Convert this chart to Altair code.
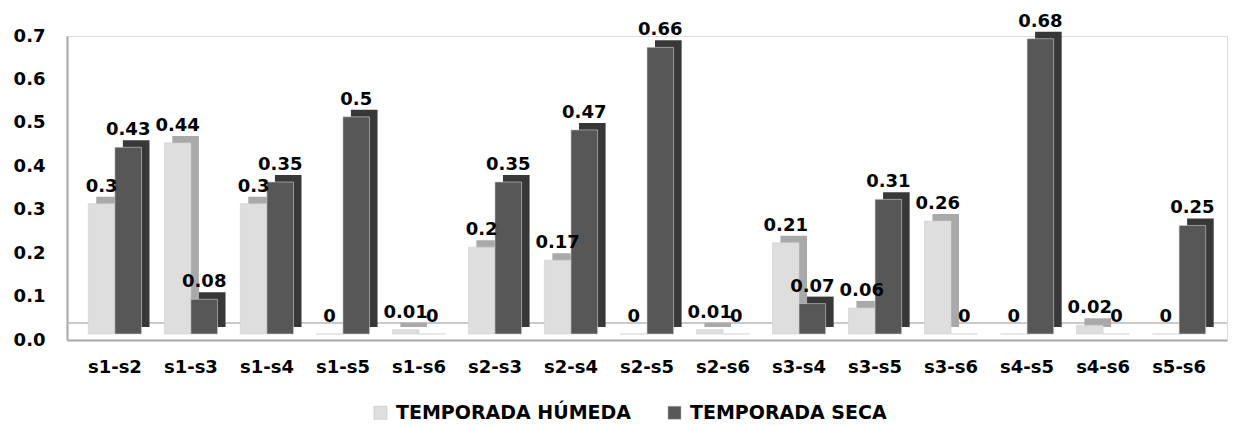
import altair as alt
import pandas as pd

pairs = ["s1-s2", "s1-s3", "s1-s4", "s1-s5", "s1-s6", "s2-s3", "s2-s4", "s2-s5",
         "s2-s6", "s3-s4", "s3-s5", "s3-s6", "s4-s5", "s4-s6", "s5-s6"]
humeda = [0.3, 0.44, 0.3, 0, 0.01, 0.2, 0.17, 0, 0.01, 0.21, 0.06, 0.26, 0, 0.02, 0]
seca = [0.43, 0.08, 0.35, 0.5, 0, 0.35, 0.47, 0.66, 0, 0.07, 0.31, 0, 0.68, 0, 0.25]
series = ["TEMPORADA HÚMEDA", "TEMPORADA SECA"]
y_ticks = [0.0, 0.1, 0.2, 0.3, 0.4, 0.5, 0.6, 0.7]

rows = []
for i, p in enumerate(pairs):
    rows.append({"pair": p, "season": series[0], "value": humeda[i], "label": f"{humeda[i]:g}"})
    rows.append({"pair": p, "season": series[1], "value": seca[i], "label": f"{seca[i]:g}"})
df = pd.DataFrame(rows)

FONT = "DejaVu Sans"
W = 1160
H = 304
PI, PO = 0.3, 0.28
STEP = W / (len(pairs) - PI + 2 * PO)
BAND = STEP * (1 - PI)
DEPTH = 8
LIFT = 6

x_enc = alt.X("pair:N", sort=pairs,
              scale=alt.Scale(paddingInner=PI, paddingOuter=PO),
              axis=alt.Axis(title=None, labelAngle=0, ticks=False, domain=True,
                            domainColor="#a6a6a6", domainWidth=2,
                            labelFontSize=18, labelFont=FONT, labelFontWeight="bold",
                            labelColor="#000000", labelPadding=18))
y_enc = alt.Y("value:Q", scale=alt.Scale(domain=[0, 0.7], nice=False),
              axis=alt.Axis(title=None, values=y_ticks, format=".1f", grid=False,
                            ticks=False, domainColor="#a6a6a6", domainWidth=2,
                            labelFontSize=18, labelFont=FONT, labelFontWeight="bold",
                            labelColor="#000000", labelPadding=22))

base = alt.Chart(df)

side = base.mark_bar(yOffset=-(LIFT + 7), y2Offset=-(LIFT + 7)).encode(
    x=x_enc,
    xOffset=alt.XOffset("season:N", sort=series,
                        scale=alt.Scale(range=[DEPTH, DEPTH + BAND])),
    y=y_enc,
    color=alt.Color("season:N", sort=series, legend=None,
                    scale=alt.Scale(domain=series, range=["#a9a9a9", "#383838"])),
)

front = base.mark_bar(strokeWidth=0.6, yOffset=-LIFT, y2Offset=-LIFT).encode(
    x=x_enc,
    xOffset=alt.XOffset("season:N", sort=series, scale=alt.Scale(range=[0, BAND])),
    y=y_enc,
    color=alt.Color("season:N", sort=series,
                    scale=alt.Scale(domain=series, range=["#dedede", "#575757"]),
                    legend=alt.Legend(title=None, orient="none", direction="horizontal",
                                      legendX=304, legendY=367,
                                      symbolType="square", symbolSize=170,
                                      labelFont=FONT, labelFontSize=19, labelLimit=0,
                                      labelFontWeight="bold", labelColor="#000000",
                                      labelOffset=6, columnPadding=33,
                                      symbolStrokeColor="#bbbbbb", symbolStrokeWidth=0.5)),
    stroke=alt.value("#d0d0d0"),
)

labels = base.mark_text(dy=-23, font=FONT, fontWeight="bold", fontSize=18,
                        color="#000000").encode(
    x=x_enc,
    xOffset=alt.XOffset("season:N", sort=series, scale=alt.Scale(range=[0, BAND])),
    y=y_enc, text="label:N",
)

floor_back = alt.Chart(pd.DataFrame({"v": [0]})).mark_rule(
    color="#b8b8b8", strokeWidth=1.5, yOffset=-17).encode(y=alt.Y("v:Q"))

chart = alt.layer(floor_back, side, front, labels).resolve_scale(
    color="independent", xOffset="independent"
).properties(
    width=W, height=H, padding={"left": 5, "top": 4, "right": 5, "bottom": 5}
).configure_view(stroke=None).configure(background="white")

chart.save("out.html", embed_options={"renderer": "svg", "actions": False})
